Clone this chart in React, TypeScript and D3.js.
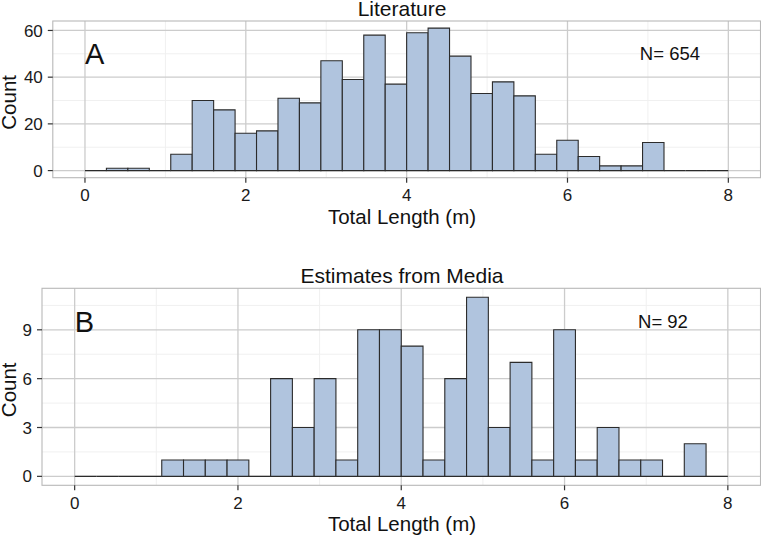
import React from "react";
import * as d3 from "d3";

const binWidth = 8 / 30;
const binStarts = d3.range(30).map((i) => i * binWidth);

const literatureCounts = [0, 1, 1, 0, 7, 30, 26, 16, 17, 31, 29, 47, 39, 58, 37, 59, 61, 49, 33, 38, 32, 7, 13, 6, 2, 2, 12, 0, 0, 0];
const mediaCounts = [0, 0, 0, 0, 1, 1, 1, 1, 0, 6, 3, 6, 1, 9, 9, 8, 1, 6, 11, 3, 7, 1, 9, 1, 3, 1, 1, 0, 2, 0];

const xTicks = [0, 2, 4, 6, 8];
const xMinor = [1, 3, 5, 7];
const litYTicks = [0, 20, 40, 60];
const litYMinor = [10, 30, 50];
const mediaYTicks = [0, 3, 6, 9];
const mediaYMinor = [1.5, 4.5, 7.5, 10.5];

const W = 761;
const H = 536;
const FONT = "'Liberation Sans', Arial, Helvetica, sans-serif";
const TITLE_X = 402;

type PanelProps = {
  counts: number[];
  yTicks: number[];
  yMinor: number[];
  left: number;
  right: number;
  top: number;
  bottom: number;
  title: string;
  letter: string;
  letterY: number;
  nLabel: string;
  nY: number;
};

function Panel(p: PanelProps) {
  const maxC = d3.max(p.counts) as number;
  const x = d3.scaleLinear().domain([-0.4, 8.4]).range([p.left, p.right]);
  const y = d3.scaleLinear().domain([-maxC * 0.05, maxC * 1.05]).range([p.bottom, p.top]);
  const grid = "#cccccc";
  const minor = "#f0f0f0";
  const barPath = (i: number, c: number) => {
    const pth = d3.path();
    const x0 = x(binStarts[i]);
    const x1 = x(binStarts[i] + binWidth);
    pth.moveTo(x0, y(0));
    pth.lineTo(x0, y(c));
    pth.lineTo(x1, y(c));
    pth.lineTo(x1, y(0));
    pth.closePath();
    return pth.toString();
  };
  return (
    <g>
      <rect x={p.left} y={p.top} width={p.right - p.left} height={p.bottom - p.top} fill="white" />
      {xMinor.map((v) => (
        <line key={"xm" + v} x1={x(v)} x2={x(v)} y1={p.top} y2={p.bottom} stroke={minor} strokeWidth={1} />
      ))}
      {p.yMinor.map((v) => (
        <line key={"ym" + v} x1={p.left} x2={p.right} y1={y(v)} y2={y(v)} stroke={minor} strokeWidth={1} />
      ))}
      {xTicks.map((v) => (
        <line key={"xg" + v} x1={x(v)} x2={x(v)} y1={p.top} y2={p.bottom} stroke={grid} strokeWidth={1.3} />
      ))}
      {p.yTicks.map((v) => (
        <line key={"yg" + v} x1={p.left} x2={p.right} y1={y(v)} y2={y(v)} stroke={grid} strokeWidth={1.3} />
      ))}
      {p.counts.map((c, i) => (
        <path key={"b" + i} d={barPath(i, c)} fill="#b0c4de" stroke="#2b2b2b" strokeWidth={1.1} />
      ))}
      <rect x={p.left} y={p.top} width={p.right - p.left} height={p.bottom - p.top} fill="none" stroke="#b8b8b8" strokeWidth={1.1} />
      {xTicks.map((v) => (
        <g key={"xt" + v}>
          <line x1={x(v)} x2={x(v)} y1={p.bottom} y2={p.bottom + 5} stroke="#333" strokeWidth={1.2} />
          <text x={x(v)} y={p.bottom + 23.5} textAnchor="middle" fontSize={17} fill="#1a1a1a" fontFamily={FONT}>
            {v}
          </text>
        </g>
      ))}
      {p.yTicks.map((v) => (
        <g key={"yt" + v}>
          <line x1={p.left - 5} x2={p.left} y1={y(v)} y2={y(v)} stroke="#333" strokeWidth={1.2} />
          <text x={p.left - 10} y={y(v)} dy="0.36em" textAnchor="end" fontSize={17} fill="#1a1a1a" fontFamily={FONT}>
            {v}
          </text>
        </g>
      ))}
      <text x={x(0)} y={y(p.letterY)} dy="0.36em" fontSize={29} fill="#111" fontFamily={FONT}>
        {p.letter}
      </text>
      <text x={x(6.9)} y={y(p.nY)} dy="0.36em" fontSize={18.5} fill="#111" fontFamily={FONT}>
        {p.nLabel}
      </text>
      <text x={TITLE_X} y={p.top - 5.5} textAnchor="middle" fontSize={21} fill="#111" fontFamily={FONT}>
        {p.title}
      </text>
      <text x={TITLE_X} y={p.bottom + 46} textAnchor="middle" fontSize={20.5} fill="#111" fontFamily={FONT}>
        Total Length (m)
      </text>
      <text
        transform={`translate(16, ${(p.top + p.bottom) / 2 + 3}) rotate(-90)`}
        textAnchor="middle"
        fontSize={20.5}
        fill="#111"
        fontFamily={FONT}
      >
        Count
      </text>
    </g>
  );
}

export default function App() {
  return (
    <svg width={W} height={H} style={{ position: "absolute", left: 0, top: 0, background: "white" }}>
      <rect x={0} y={0} width={W} height={H} fill="white" />
      <Panel
        counts={literatureCounts}
        yTicks={litYTicks}
        yMinor={litYMinor}
        left={52.8}
        right={760.5}
        top={21}
        bottom={177.7}
        title="Literature"
        letter="A"
        letterY={50}
        nLabel="N= 654"
        nY={50}
      />
      <Panel
        counts={mediaCounts}
        yTicks={mediaYTicks}
        yMinor={mediaYMinor}
        left={42}
        right={760.5}
        top={288.3}
        bottom={485.3}
        title="Estimates from Media"
        letter="B"
        letterY={9.5}
        nLabel="N= 92"
        nY={9.5}
      />
    </svg>
  );
}
